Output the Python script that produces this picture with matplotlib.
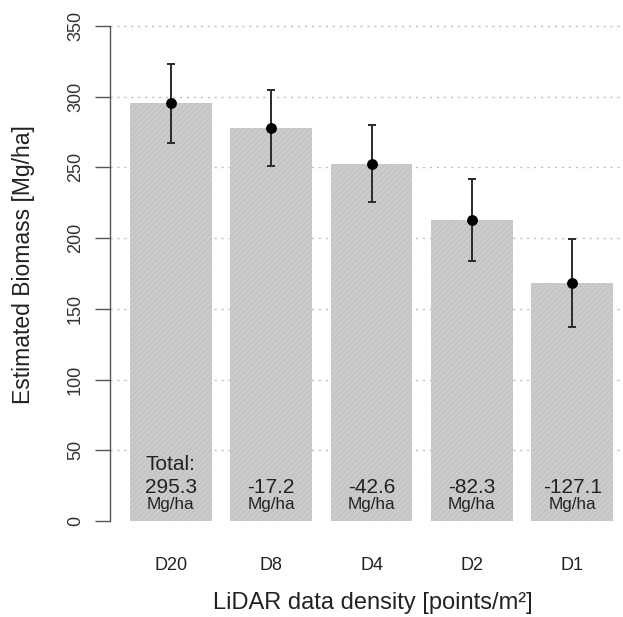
import matplotlib.pyplot as plt
import numpy as np

plt.rcParams["font.family"] = ["Liberation Sans", "DejaVu Sans"]
plt.rcParams["hatch.linewidth"] = 0.6

# LiDAR point density classes and estimated biomass (Mg/ha)
densities = ["D20", "D8", "D4", "D2", "D1"]
biomass = [295.3, 278.1, 252.7, 213.0, 168.2]
biomass_err = [28.0, 26.8, 27.5, 29.0, 31.2]
yticks = [0, 50, 100, 150, 200, 250, 300, 350]

x = np.arange(len(densities))

fig = plt.figure(figsize=(6.23, 6.17), dpi=100)
ax = fig.add_axes([0.1761, 0.1235, 0.8239, 0.8665])

# grid behind the bars
for yv in yticks[1:]:
    ax.axhline(yv, color="#bdbdbd", lw=1.0, ls=(0, (1.5, 3.5)), zorder=0)

ax.bar(x, biomass, width=0.815, color="#cbcbcb", edgecolor="#bebebe",
       linewidth=0, hatch="//////", zorder=1)

ax.errorbar(x, biomass, yerr=biomass_err, fmt="o", color="black",
            ecolor="#2a2a2a", elinewidth=1.4, capsize=3.2, capthick=1.4,
            markersize=6.8, zorder=3)

# differences relative to the densest data set
for i, val in enumerate(biomass):
    if i == 0:
        ax.text(x[i], 39.6, "Total:", ha="center", va="center",
                fontsize=15, color="#222222", zorder=4)
        num = f"{val:.1f}"
    else:
        num = f"{val - biomass[0]:.1f}"
    ax.text(x[i], 23.5, num, ha="center", va="center",
            fontsize=15, color="#222222", zorder=4)
    ax.text(x[i], 11.8, "Mg/ha", ha="center", va="center",
            fontsize=12.3, color="#222222", zorder=4)

ax.set_xlim(-0.609, 4.506)
ax.set_ylim(-14, 364)

ax.set_yticks(yticks)
ax.set_yticklabels([str(v) for v in yticks], rotation=90, va="center",
                   fontsize=13, color="#333333")
ax.tick_params(axis="y", length=10.5, width=1.0, color="#555555", pad=8)

ax.set_xticks(x)
ax.set_xticklabels(densities, fontsize=13, color="#222222")
ax.tick_params(axis="x", length=0, pad=12)

for side in ["top", "right", "bottom"]:
    ax.spines[side].set_visible(False)
ax.spines["left"].set_bounds(0, 350)
ax.spines["left"].set_color("#555555")
ax.spines["left"].set_linewidth(1.0)

fig.text(372.5 / 623, 1 - 603 / 617, "LiDAR data density [points/m²]",
         ha="center", va="center", fontsize=17, color="#222222")
fig.text(24 / 623, 1 - 265 / 617, "Estimated Biomass [Mg/ha]",
         ha="center", va="center", rotation=90, fontsize=16.5,
         color="#222222")

fig.savefig("out.png", dpi=100)
